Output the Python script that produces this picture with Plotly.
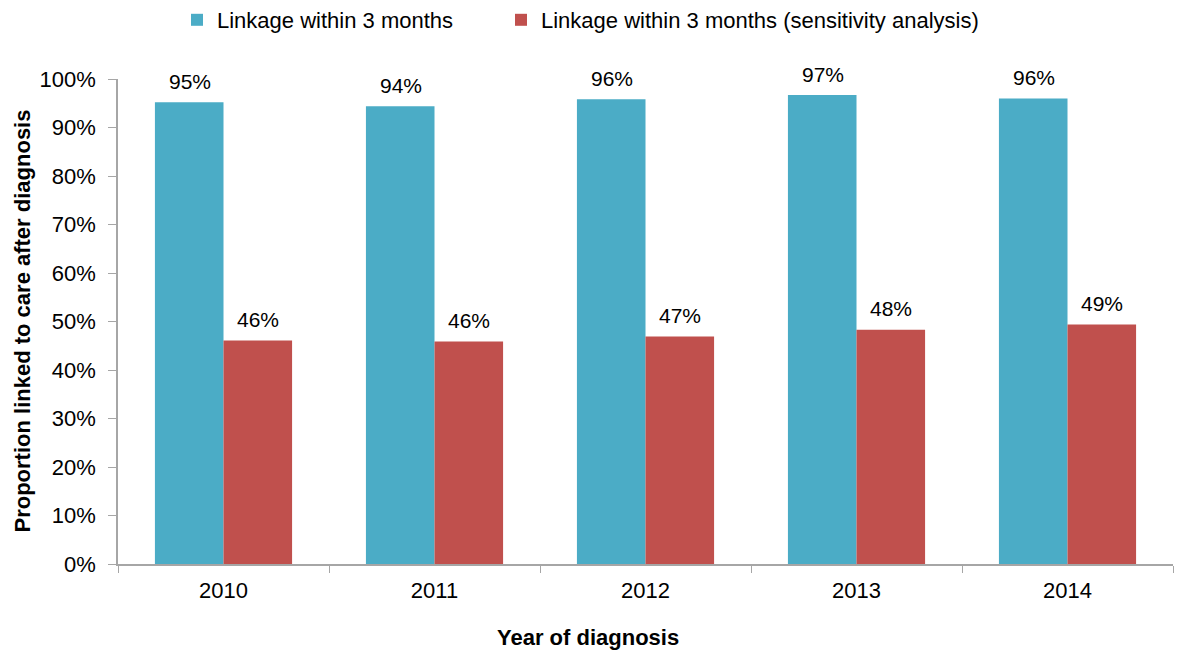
import plotly.graph_objects as go

years = ["2010", "2011", "2012", "2013", "2014"]
linkage_3m = [0.952, 0.944, 0.958, 0.967, 0.960]
linkage_3m_sens = [0.461, 0.459, 0.469, 0.483, 0.494]
series_names = ["Linkage within 3 months", "Linkage within 3 months (sensitivity analysis)"]
y_ticks = [0, 0.1, 0.2, 0.3, 0.4, 0.5, 0.6, 0.7, 0.8, 0.9, 1.0]

BLUE = "#4BACC6"
RED = "#C0504D"
AXIS = "#A6A6A6"
FONT = "Liberation Sans, Arial, sans-serif"

fig = go.Figure()
for name, vals, col, leg in [(series_names[0], linkage_3m, BLUE, "legend"),
                             (series_names[1], linkage_3m_sens, RED, "legend2")]:
    fig.add_trace(go.Bar(
        x=years, y=vals, name=name, legend=leg,
        marker=dict(color=col, line=dict(width=0)),
        textposition="none",
    ))

# value labels above each bar (category index positions), offset per series
for k, vals in enumerate([linkage_3m, linkage_3m_sens]):
    for i, v in enumerate(vals):
        fig.add_annotation(
            x=i, y=v, xref="x", yref="y",
            text=f"{v:.0%}", showarrow=False,
            xshift=-34 if k == 0 else 34, yshift=21,
            yanchor="middle",
            font=dict(family=FONT, size=21, color="#000"),
        )

fig.add_annotation(
    text="<b>Year of diagnosis</b>", xref="paper", yref="paper",
    x=(588 - 118) / 1055, y=-(637 - 564) / 485, xanchor="center", yanchor="middle",
    showarrow=False, font=dict(family=FONT, size=22, color="#000"),
)
fig.add_annotation(
    text="<b>Proportion linked to care after diagnosis</b>", xref="paper", yref="paper",
    x=-(118 - 22) / 1055, y=0.5, xanchor="center", yanchor="middle", textangle=-90,
    showarrow=False, font=dict(family=FONT, size=22, color="#000"),
)

legend_common = dict(
    orientation="h", xanchor="left",
    yref="container", y=1 - 20 / 654, yanchor="middle",
    font=dict(family=FONT, size=22, color="#000"),
    bgcolor="rgba(0,0,0,0)",
)

fig.update_layout(
    width=1177, height=654,
    margin=dict(l=118, r=4, t=79, b=90, autoexpand=False),
    paper_bgcolor="white", plot_bgcolor="white",
    barmode="group", bargap=0.35, bargroupgap=0,
    font=dict(family=FONT, size=22, color="#000"),
    showlegend=True,
    legend=dict(x=(177 - 118) / 1055, **legend_common),
    legend2=dict(x=(501 - 118) / 1055, **legend_common),
    xaxis=dict(
        type="category", range=[-0.5, 4.5],
        showline=True, linecolor=AXIS, linewidth=1.5,
        ticks="outside", tickson="boundaries", ticklen=7, tickcolor=AXIS,
        tickfont=dict(family=FONT, size=22, color="#000"),
        ticklabelstandoff=6,
        showgrid=False,
    ),
    yaxis=dict(
        range=[0, 1], tickvals=y_ticks, tickformat=".0%",
        showline=True, linecolor=AXIS, linewidth=1.5,
        ticks="outside", ticklen=8, tickcolor=AXIS,
        tickfont=dict(family=FONT, size=22, color="#000"),
        ticklabelstandoff=8,
        showgrid=False, zeroline=False,
    ),
)

fig.write_html("out.html")
